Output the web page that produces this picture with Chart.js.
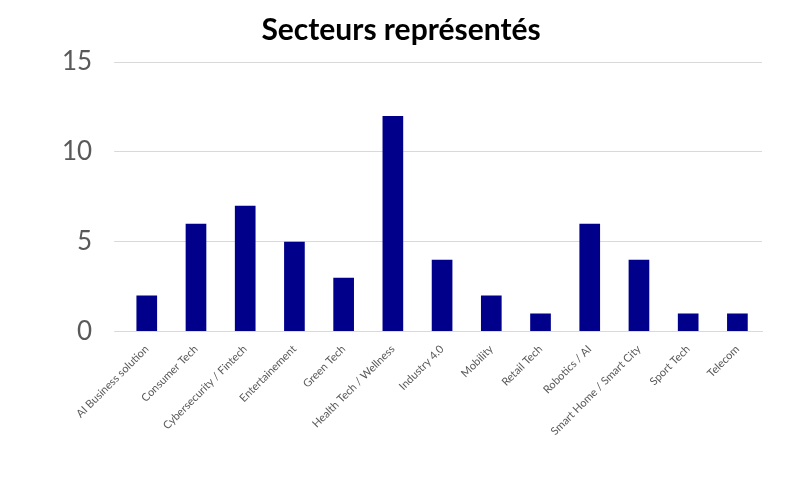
<!DOCTYPE html>
<html>
<head>
<meta charset="utf-8">
<script src="https://cdn.jsdelivr.net/npm/chart.js@4/dist/chart.umd.min.js"></script>
<style>
  body { margin: 0; background: #fff; }
  #wrap { width: 800px; height: 477px; }
</style>
</head>
<body>
<div id="wrap"><canvas id="myChart"></canvas></div>
<script>
const categories = ['AI Business solution', 'Consumer Tech', 'Cybersecurity / Fintech', 'Entertainement', 'Green Tech',
    'Health Tech / Wellness', 'Industry 4.0', 'Mobility', 'Retail Tech', 'Robotics / AI',
    'Smart Home / Smart City', 'Sport Tech', 'Telecom'];
const counts = [2, 6, 7, 5, 3, 12, 4, 2, 1, 6, 4, 1, 1];
const yTicks = [0, 5, 10, 15];

const ctx = document.getElementById('myChart').getContext('2d');
new Chart(ctx, {
    type: 'bar',
    data: {
        labels: categories,
        datasets: [{
            data: counts,
            backgroundColor: '#00008B',
            barPercentage: 0.42,
            categoryPercentage: 1
        }]
    },
    options: {
        responsive: true,
        maintainAspectRatio: false,
        animation: false,
        layout: { padding: { left: 40, right: 38, top: 8, bottom: 36 } },
        scales: {
            x: {
                grid: { display: false },
                border: { color: '#d9d9d9' },
                ticks: {
                    color: '#595959',
                    font: { family: 'Lato', size: 11 },
                    maxRotation: 45,
                    minRotation: 45,
                    autoSkip: false
                }
            },
            y: {
                min: 0,
                max: 15,
                afterBuildTicks: function (axis) {
                    axis.ticks = yTicks.map(v => ({ value: v }));
                },
                grid: { color: '#d9d9d9' },
                border: { display: false },
                ticks: {
                    color: '#595959',
                    padding: 22,
                    font: { family: 'Lato', size: 26 }
                }
            }
        },
        plugins: {
            legend: { display: false },
            tooltip: { enabled: false },
            title: {
                display: true,
                text: 'Secteurs représentés',
                color: '#000',
                font: { family: 'Lato', size: 30, weight: 'bold' },
                padding: { top: 4, bottom: 14 }
            }
        }
    }
});
</script>
</body>
</html>
